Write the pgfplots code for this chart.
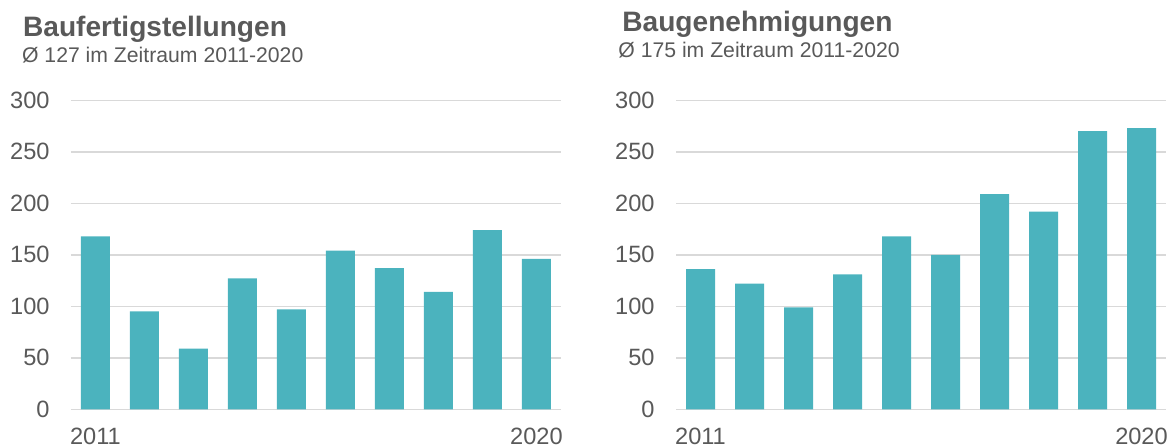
\documentclass[border=0pt]{standalone}
\usepackage{pgfplots}
\pgfplotsset{compat=1.18}
\usepackage{fontspec}
\setmainfont{Liberation Sans}
\definecolor{bar}{HTML}{4BB3BE}
\definecolor{txt}{HTML}{595959}
\definecolor{gridgray}{HTML}{D9D9D9}
% one reference pixel = 0.5pt
\pgfplotsset{
  panel/.style={
    anchor=south west,
    scale only axis,
    width=245pt, height=154.5pt,
    xmin=-0.5, xmax=9.5,
    ymin=0, ymax=300,
    ytick={0,50,...,300},
    xtick={0,9},
    xticklabels={2011,2020},
    major tick length=0pt,
    axis line style={draw=none},
    ymajorgrids, xmajorgrids=false,
    grid style={color=gridgray, line width=0.7pt},
    ybar, bar width=14.5pt,
    /pgf/number format/assume math mode=true,
    ticklabel style={font=\fontsize{11.8}{13}\selectfont, text=txt, inner sep=0pt},
    yticklabel style={anchor=east, xshift=-10.5pt},
    xticklabel style={anchor=north, yshift=-9.2pt},
    clip=false,
  },
}
\begin{document}
\begin{tikzpicture}
\useasboundingbox (0,0) rectangle (586.5pt,223.5pt);

% Baufertigstellungen
\begin{axis}[panel, at={(35.5pt,18.85pt)}]
\addplot[fill=bar, draw=none] coordinates {
  (0,168) (1,95) (2,59) (3,127) (4,97)
  (5,154) (6,137) (7,114) (8,174) (9,146)
};
\end{axis}

% Baugenehmigungen
\begin{axis}[panel, at={(338pt,18.85pt)}]
\addplot[fill=bar, draw=none] coordinates {
  (0,136) (1,122) (2,99) (3,131) (4,168)
  (5,150) (6,209) (7,192) (8,270) (9,273)
};
\end{axis}

\node[anchor=base west, inner sep=0pt, text=txt, font=\fontsize{14.05}{16}\selectfont\bfseries]
  at (11.35pt,205.5pt) {Baufertigstellungen};
\node[anchor=base west, inner sep=0pt, text=txt, font=\fontsize{10.6}{12}\selectfont]
  at (10.85pt,192.15pt) {Ø 127 im Zeitraum 2011-2020};
\node[anchor=base west, inner sep=0pt, text=txt, font=\fontsize{14.05}{16}\selectfont\bfseries]
  at (311pt,207.65pt) {Baugenehmigungen};
\node[anchor=base west, inner sep=0pt, text=txt, font=\fontsize{10.6}{12}\selectfont]
  at (309pt,194.65pt) {Ø 175 im Zeitraum 2011-2020};
\end{tikzpicture}
\end{document}
